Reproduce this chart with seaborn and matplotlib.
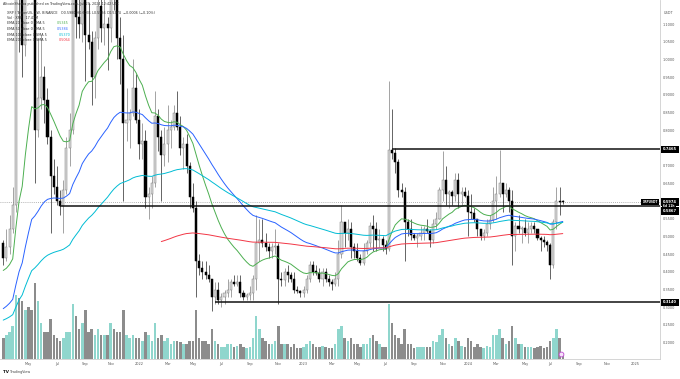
import numpy as np
import pandas as pd
import seaborn as sns
import matplotlib
matplotlib.use("Agg")
from matplotlib import pyplot as plt
from matplotlib.transforms import blended_transform_factory

# weekly XRP/USDT candles, one bar per Monday starting 2021-03-08
first_week = "2021-03-08"

opens = [
    # 2021
    0.48, 0.44, 0.47, 0.52, 0.59, 1.36, 1.31, 1.04, 1.58, 1.50, 1.46, 0.80, 0.89,
    0.95, 0.885, 0.78, 0.67, 0.64, 0.60, 0.586, 0.63, 0.75, 0.80, 1.27, 1.12, 1.10,
    1.28, 1.07, 1.05, 0.95, 1.06, 1.15, 1.09, 1.10, 1.09, 1.22, 1.17, 1.06, 1.00,
    0.82, 0.83, 0.85, 0.92,
    # 2022
    0.83, 0.76, 0.77, 0.61, 0.62, 0.65, 0.84, 0.78, 0.73, 0.76, 0.80, 0.81, 0.85,
    0.81, 0.75, 0.76, 0.70, 0.61, 0.58, 0.43, 0.41, 0.40, 0.39, 0.38, 0.33, 0.35,
    0.32, 0.33, 0.34, 0.35, 0.37, 0.365, 0.37, 0.34, 0.33, 0.335, 0.34, 0.38, 0.48,
    0.49, 0.48, 0.47, 0.46, 0.47, 0.472, 0.38, 0.378, 0.40, 0.39, 0.38, 0.35, 0.345,
    # 2023
    0.34, 0.35, 0.38, 0.42, 0.40, 0.398, 0.38, 0.40, 0.38, 0.37, 0.365, 0.38, 0.45,
    0.54, 0.51, 0.52, 0.47, 0.46, 0.44, 0.425, 0.46, 0.48, 0.53, 0.52, 0.49, 0.492,
    0.475, 0.465, 0.744, 0.735, 0.71, 0.63, 0.625, 0.54, 0.52, 0.505, 0.495, 0.50, 0.51,
    0.52, 0.515, 0.49, 0.535, 0.55, 0.63, 0.66, 0.62, 0.625, 0.615, 0.66, 0.62, 0.625,
    # 2024
    0.615, 0.57, 0.565, 0.55, 0.52, 0.50, 0.51, 0.535, 0.545, 0.60, 0.62, 0.65, 0.62,
    0.63, 0.60, 0.50, 0.53, 0.52, 0.525, 0.51, 0.52, 0.53, 0.52, 0.495, 0.49, 0.485,
    0.475, 0.42, 0.54, 0.60, 0.598,
]
highs = [
    0.49, 0.52, 0.56, 0.64, 1.47, 1.96, 1.43, 1.64, 1.76, 1.72, 1.68, 1.06, 1.07,
    0.98, 0.92, 0.80, 0.72, 0.70, 0.63, 0.66, 0.78, 0.85, 1.35, 1.35, 1.25, 1.41,
    1.41, 1.16, 1.08, 1.08, 1.18, 1.23, 1.17, 1.12, 1.35, 1.35, 1.19, 1.12, 1.07,
    0.92, 0.86, 1.00, 0.96,
    0.86, 0.82, 0.80, 0.64, 0.67, 0.91, 0.86, 0.80, 0.81, 0.87, 0.83, 0.87, 0.91,
    0.84, 0.78, 0.79, 0.71, 0.65, 0.60, 0.45, 0.43, 0.43, 0.42, 0.38, 0.37, 0.37,
    0.34, 0.35, 0.38, 0.38, 0.39, 0.39, 0.39, 0.35, 0.34, 0.36, 0.39, 0.56, 0.55,
    0.55, 0.51, 0.48, 0.48, 0.52, 0.48, 0.40, 0.41, 0.42, 0.40, 0.40, 0.36, 0.35,
    0.36, 0.39, 0.43, 0.43, 0.42, 0.41, 0.41, 0.41, 0.39, 0.38, 0.40, 0.49, 0.59,
    0.54, 0.55, 0.54, 0.48, 0.48, 0.45, 0.48, 0.49, 0.54, 0.56, 0.54, 0.52, 0.50,
    0.49, 0.94, 0.86, 0.75, 0.72, 0.65, 0.64, 0.55, 0.55, 0.51, 0.51, 0.53, 0.53,
    0.55, 0.52, 0.55, 0.57, 0.64, 0.74, 0.70, 0.63, 0.63, 0.68, 0.68, 0.64, 0.64,
    0.63, 0.62, 0.58, 0.55, 0.52, 0.52, 0.55, 0.56, 0.64, 0.67, 0.745, 0.65, 0.65,
    0.64, 0.63, 0.54, 0.56, 0.53, 0.55, 0.54, 0.54, 0.54, 0.52, 0.50, 0.50, 0.49,
    0.48, 0.55, 0.64, 0.64, 0.604,
]
lows = [
    0.42, 0.43, 0.45, 0.51, 0.57, 1.02, 0.95, 1.01, 1.40, 1.25, 0.65, 0.78, 0.86,
    0.82, 0.76, 0.51, 0.62, 0.59, 0.56, 0.51, 0.62, 0.70, 0.79, 1.06, 1.06, 1.05,
    0.94, 1.03, 0.87, 0.89, 1.03, 1.05, 1.04, 0.97, 1.05, 1.14, 1.00, 0.93, 0.60,
    0.77, 0.75, 0.84, 0.82,
    0.72, 0.72, 0.58, 0.55, 0.58, 0.64, 0.74, 0.60, 0.70, 0.71, 0.75, 0.80, 0.80,
    0.73, 0.69, 0.68, 0.58, 0.57, 0.33, 0.39, 0.38, 0.38, 0.37, 0.29, 0.31, 0.31,
    0.30, 0.31, 0.33, 0.33, 0.36, 0.36, 0.33, 0.32, 0.32, 0.32, 0.32, 0.35, 0.43,
    0.47, 0.46, 0.44, 0.44, 0.45, 0.31, 0.36, 0.36, 0.37, 0.37, 0.34, 0.34, 0.33,
    0.33, 0.34, 0.37, 0.39, 0.39, 0.37, 0.36, 0.37, 0.36, 0.35, 0.36, 0.36, 0.44,
    0.47, 0.49, 0.44, 0.44, 0.43, 0.42, 0.42, 0.45, 0.47, 0.46, 0.46, 0.47, 0.46,
    0.45, 0.46, 0.72, 0.68, 0.61, 0.61, 0.43, 0.50, 0.49, 0.49, 0.47, 0.49, 0.49,
    0.51, 0.47, 0.48, 0.52, 0.55, 0.60, 0.59, 0.58, 0.59, 0.60, 0.58, 0.59, 0.61,
    0.50, 0.55, 0.54, 0.50, 0.49, 0.49, 0.50, 0.52, 0.54, 0.55, 0.61, 0.57, 0.61,
    0.57, 0.42, 0.46, 0.51, 0.48, 0.50, 0.48, 0.51, 0.51, 0.49, 0.46, 0.47, 0.46,
    0.38, 0.41, 0.52, 0.56, 0.592,
]
closes = [
    0.44, 0.47, 0.52, 0.59, 1.36, 1.31, 1.04, 1.58, 1.50, 1.46, 0.80, 0.89, 0.95,
    0.885, 0.78, 0.67, 0.64, 0.60, 0.586, 0.63, 0.75, 0.80, 1.27, 1.12, 1.10, 1.28,
    1.07, 1.05, 0.95, 1.06, 1.15, 1.09, 1.10, 1.09, 1.22, 1.17, 1.06, 1.00, 0.82,
    0.83, 0.85, 0.92, 0.83,
    0.76, 0.77, 0.61, 0.62, 0.65, 0.84, 0.78, 0.73, 0.76, 0.80, 0.81, 0.85, 0.81,
    0.75, 0.76, 0.70, 0.61, 0.58, 0.43, 0.41, 0.40, 0.39, 0.38, 0.33, 0.35, 0.32,
    0.33, 0.34, 0.35, 0.37, 0.365, 0.37, 0.34, 0.33, 0.335, 0.34, 0.38, 0.48, 0.49,
    0.48, 0.47, 0.46, 0.47, 0.472, 0.38, 0.378, 0.40, 0.39, 0.38, 0.35, 0.345, 0.34,
    0.35, 0.38, 0.42, 0.40, 0.398, 0.38, 0.40, 0.38, 0.37, 0.365, 0.38, 0.45, 0.54,
    0.51, 0.52, 0.47, 0.46, 0.44, 0.425, 0.46, 0.48, 0.53, 0.52, 0.49, 0.492, 0.475,
    0.465, 0.744, 0.735, 0.71, 0.63, 0.625, 0.54, 0.52, 0.505, 0.495, 0.50, 0.51, 0.52,
    0.515, 0.49, 0.535, 0.55, 0.63, 0.66, 0.62, 0.625, 0.615, 0.66, 0.62, 0.625, 0.615,
    0.57, 0.565, 0.55, 0.52, 0.50, 0.51, 0.535, 0.545, 0.60, 0.62, 0.65, 0.62, 0.63,
    0.60, 0.50, 0.53, 0.52, 0.525, 0.51, 0.52, 0.53, 0.52, 0.495, 0.49, 0.485, 0.475,
    0.42, 0.54, 0.60, 0.598, 0.5974,
]
# weekly volume, billions of XRP
volumes = [
    3.5, 4.0, 4.5, 5.5, 10.5, 10.0, 9.5, 8.0, 8.5, 8.0, 12.5, 9.5, 6.0,
    4.5, 4.5, 6.5, 4.0, 3.5, 3.0, 3.5, 4.5, 4.5, 9.0, 7.0, 5.0, 6.0,
    8.0, 4.5, 5.0, 4.0, 5.0, 4.0, 4.0, 4.0, 6.0, 5.0, 4.5, 4.5, 8.0,
    4.0, 3.5, 4.0, 3.5,
    3.5, 3.0, 4.5, 4.0, 3.0, 6.0, 3.5, 4.0, 3.0, 3.5, 2.5, 3.0, 3.0,
    2.8, 2.5, 2.5, 3.0, 3.0, 8.0, 3.5, 3.0, 3.0, 2.5, 5.0, 3.0, 2.5,
    2.0, 2.0, 2.5, 2.5, 2.0, 2.2, 2.5, 2.0, 1.8, 2.0, 3.5, 7.0, 5.0,
    3.5, 3.0, 2.5, 2.5, 3.0, 5.5, 2.5, 2.5, 2.5, 2.0, 2.5, 1.8, 1.8,
    2.0, 2.5, 3.0, 2.5, 2.0, 2.0, 2.2, 2.0, 1.8, 1.8, 2.5, 5.0, 5.5,
    3.5, 3.0, 3.5, 2.5, 2.5, 2.0, 2.5, 2.5, 3.5, 4.0, 3.0, 2.5, 2.0,
    2.0, 9.0, 6.0, 4.0, 3.5, 2.5, 5.0, 2.5, 2.5, 1.8, 2.0, 2.0, 2.0,
    2.0, 2.0, 3.0, 2.8, 4.0, 5.0, 3.5, 2.5, 2.2, 3.5, 3.0, 2.2, 2.0,
    3.5, 3.0, 2.0, 2.5, 2.0, 1.8, 2.2, 2.0, 4.0, 4.0, 5.0, 3.5, 2.5,
    3.0, 5.5, 3.5, 2.5, 2.5, 2.0, 2.0, 2.0, 1.8, 2.0, 2.2, 1.8, 2.0,
    3.0, 3.5, 5.0, 3.5, 1.0,
]

# EMA settings: period, value just before its first bar, first bar, colour
ema_periods = [20, 50, 100, 200]
ema_seeds = [0.40, 0.29, 0.26, 0.483]
ema_starts = ["2021-03-08", "2021-03-08", "2021-03-08", "2022-02-21"]
ema_colors = ["#4caf50", "#2962ff", "#00bcd4", "#f23645"]
ema_legend = ["0.5345", "0.5384", "0.5370", "0.5064"]

# horizontal levels drawn on the chart: price, first bar
levels = [0.5867, 0.7465, 0.3140]
level_starts = ["2021-07-12", "2023-07-17", "2022-06-20"]
level_tags = ["0.5867", "0.7465", "0.3140"]

price_ticks = [0.20, 0.25, 0.30, 0.35, 0.40, 0.45, 0.50, 0.55, 0.60, 0.65,
               0.70, 0.75, 0.80, 0.85, 0.90, 0.95, 1.00, 1.05, 1.10]
# labels hidden by the price tags on the scale
hidden_ticks = [0.60, 0.75]
time_ticks = ["2021-05-03", "2021-07-05", "2021-09-06", "2021-11-01", "2022-01-03",
              "2022-03-07", "2022-05-02", "2022-07-04", "2022-09-05", "2022-11-07",
              "2023-01-02", "2023-03-06", "2023-05-01", "2023-07-03", "2023-09-04",
              "2023-11-06", "2024-01-01", "2024-03-04", "2024-05-06", "2024-07-01",
              "2024-09-02", "2024-11-04", "2025-01-06"]
time_labels = ["May", "Jul", "Sep", "Nov", "2022", "Mar", "May", "Jul", "Sep", "Nov",
               "2023", "Mar", "May", "Jul", "Sep", "Nov", "2024", "Mar", "May", "Jul",
               "Sep", "Nov", "2025"]

df = pd.DataFrame({"open": opens, "high": highs, "low": lows,
                   "close": closes, "volume": volumes})
df["date"] = pd.date_range(first_week, periods=len(df), freq="7D")
up = df["close"] >= df["open"]

sns.set_theme(style="white")
plt.rcParams["font.family"] = ["DejaVu Sans"]

W, H = 680, 379
fig = plt.figure(figsize=(W / 100, H / 100), dpi=100)
ax = fig.add_axes([0, 20 / H, 660 / W, 359 / H])
axv = ax.twinx()
ax.set_zorder(axv.get_zorder() + 1)
ax.patch.set_visible(False)

# volume
axv.bar(df["date"], df["volume"], width=5.6,
        color=np.where(up, "#8fd6cd", "#8c8c8c"), linewidth=0)
axv.set_ylim(0, df["volume"].max() * 359 / 76)
axv.set_yticks([])
for s in axv.spines.values():
    s.set_visible(False)

# candles
ax.vlines(df["date"], df["low"], df["high"],
          colors=np.where(up, "#8a8a8a", "#3a3a3a"), linewidth=0.55, zorder=2)
body_lo = df[["open", "close"]].min(axis=1)
body_h = (df["close"] - df["open"]).abs().clip(lower=0.003)
ax.bar(df["date"], body_h, bottom=body_lo, width=4.6,
       color=np.where(up, "#dadada", "#000000"),
       edgecolor=np.where(up, "#7d7d7d", "#000000"), linewidth=0.35, zorder=3)

# EMAs
for n, seed, start, col in zip(ema_periods, ema_seeds, ema_starts, ema_colors):
    part = df[df["date"] >= pd.Timestamp(start)]
    ema = pd.Series([seed] + list(part["close"])).ewm(span=n, adjust=False).mean()[1:]
    sns.lineplot(x=part["date"].values, y=ema.values, ax=ax, color=col,
                 linewidth=0.7, zorder=4)

x0 = pd.Timestamp("2021-02-28 20:00")
x1 = x0 + pd.Timedelta(days=660 / 0.4516)

# horizontal rays
for lv, st in zip(levels, level_starts):
    ax.hlines(lv, pd.Timestamp(st), x1, colors="#111111", linewidth=1.1, zorder=5)
ax.axhline(closes[-1], color="#9a9a9a", linestyle=(0, (1, 1.5)), linewidth=0.6, zorder=1)

ax.set_xlim(x0, x1)
ax.set_ylim(0.1537, 1.1678)
ax.yaxis.tick_right()
ax.set_yticks(price_ticks)
ax.set_yticklabels(["" if t in hidden_ticks else f"{t:.4f}" for t in price_ticks])
ax.set_xticks(pd.to_datetime(time_ticks))
ax.set_xticklabels(time_labels)
ax.tick_params(axis="y", labelsize=2.5, colors="#555555", length=0, pad=2.2)
ax.tick_params(axis="x", labelsize=2.5, colors="#555555", length=0, pad=2.0)
ax.set_xlabel("")
ax.set_ylabel("")
for side in ["left", "top"]:
    ax.spines[side].set_visible(False)
for side in ["right", "bottom"]:
    ax.spines[side].set_color("#cfcfcf")
    ax.spines[side].set_linewidth(0.6)

# price tags on the scale
tr = blended_transform_factory(ax.transAxes, ax.transData)
tag_style = dict(fontsize=2.6, color="white", fontweight="bold", va="center", ha="left",
                 annotation_clip=False, zorder=10, xycoords=tr, textcoords="offset pixels",
                 bbox=dict(boxstyle="square,pad=0.45", fc="black", ec="none"))
ax.annotate(level_tags[1], xy=(1, levels[1]), xytext=(3, 0), **tag_style)
ax.annotate(level_tags[2], xy=(1, levels[2]), xytext=(3, 0), **tag_style)
ax.annotate(f"{closes[-1]:.4f}", xy=(1, closes[-1]), xytext=(3, 0), **tag_style)
ax.annotate("6d 11h", xy=(1, closes[-1]), xytext=(3, -4.5), **dict(tag_style, fontsize=2.1))
ax.annotate(level_tags[0], xy=(1, closes[-1]), xytext=(3, -9), **tag_style)
ax.annotate("XRPUSDT", xy=(1, closes[-1]), xytext=(-2, 0),
            **dict(tag_style, ha="right", fontsize=2.1))


def fx(px):
    return px / W


def fy(py):
    return 1 - py / H


fig.text(fx(664), fy(13), "USDT", fontsize=2.5, color="#555555", va="center")
fig.text(fx(3), fy(4), "AltcoinSherpa published on TradingView.com, Jul 29, 2024 12:42 UTC",
         fontsize=2.4, color="#333333", va="center")
fig.text(fx(7), fy(12.7),
         "XRP / TetherUS, 1W, BINANCE   O0.5980 H0.6031 L0.5936 C0.5974  \u22120.0006 (\u22120.10%)",
         fontsize=2.4, color="#333333", va="center")
fig.text(fx(7), fy(18), "Vol \u00b7 XRP   17.41M", fontsize=2.4, color="#333333", va="center")
for i, (n, col, val) in enumerate(zip(ema_periods, ema_colors, ema_legend)):
    y = 23.5 + i * 5.5
    fig.text(fx(7), fy(y), f"EMA {n} close 0 SMA 5", fontsize=2.4, color="#333333", va="center")
    fig.text(fx(57 if n < 100 else 59), fy(y), val, fontsize=2.4, color=col, va="center")

fig.text(fx(3), fy(372), "TV", fontsize=3.0, color="#111111", fontweight="bold", va="center")
fig.text(fx(10), fy(372), "TradingView", fontsize=2.4, color="#444444", va="center")
ax.scatter([fx(561)], [fy(354)], transform=fig.transFigure, s=12, marker="o",
           facecolor="#f6e3f9", edgecolor="#c24fd6", linewidth=0.6, clip_on=False, zorder=20)

fig.savefig("out.png", dpi=100)
